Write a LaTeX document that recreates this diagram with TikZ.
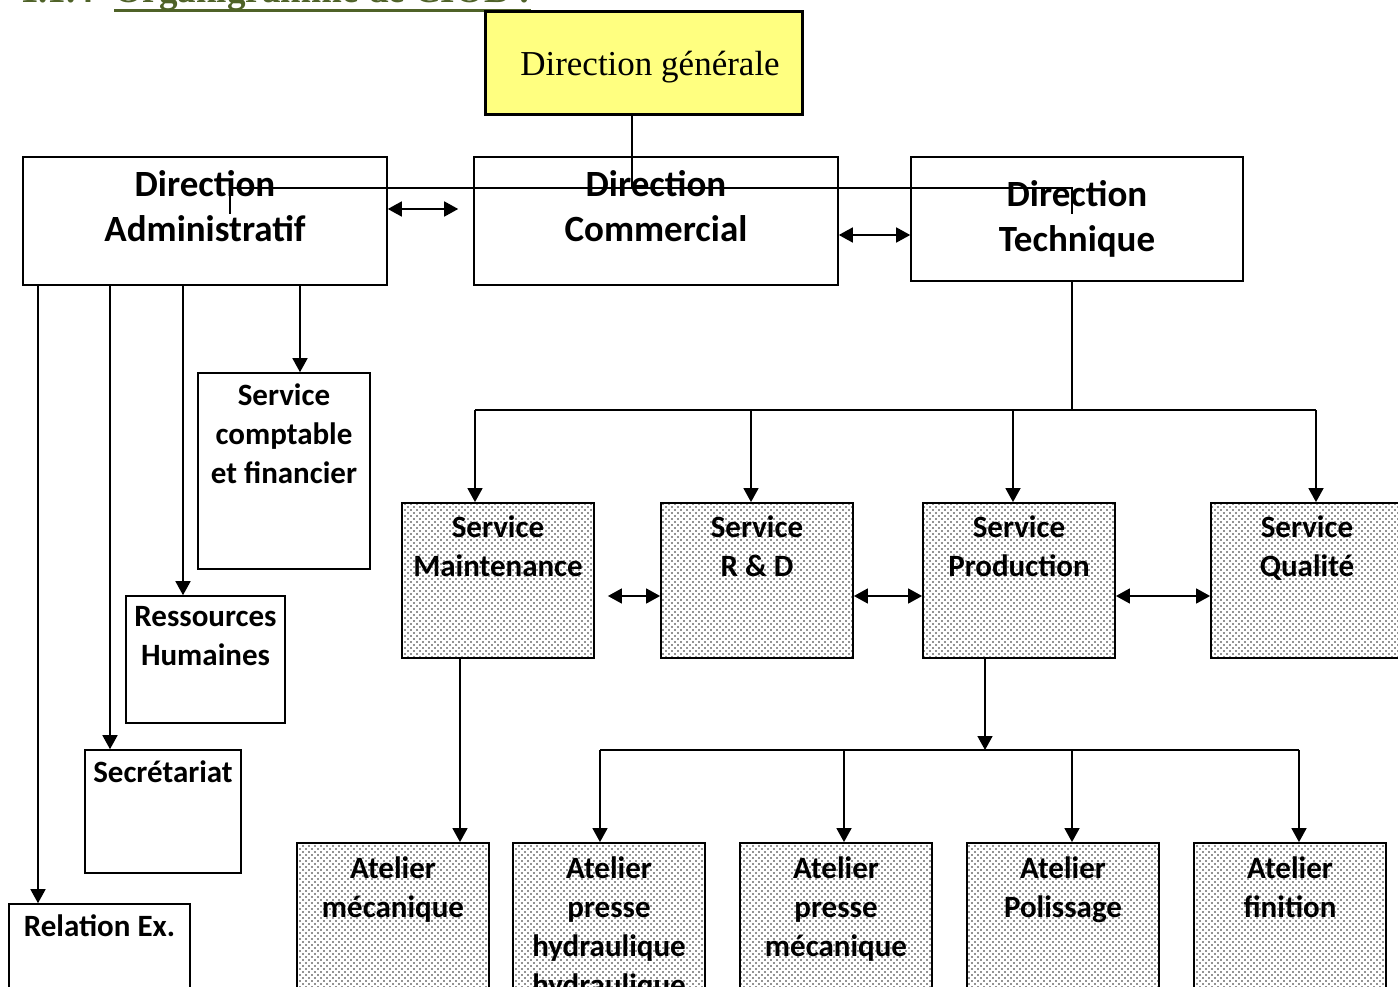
\documentclass[tikz,border=0pt]{standalone}
\usepackage{fontspec}
\usepackage{tikz}
\usetikzlibrary{arrows.meta, patterns}
\newfontfamily\calibri{Carlito}
\newfontfamily\serifface{Liberation Serif}
\newcommand{\bigfont}{\calibri\bfseries\fontsize{37}{45}\selectfont}
\newcommand{\smallfont}{\calibri\bfseries\fontsize{31}{39}\selectfont}
\definecolor{oliveTitle}{HTML}{4F6228}
\definecolor{genYellow}{HTML}{FFFF80}
\pgfdeclarepatternformonly{sparse dots}{\pgfqpoint{-1pt}{-1pt}}{\pgfqpoint{4pt}{4pt}}{\pgfqpoint{6pt}{6pt}}{%
  \pgfpathcircle{\pgfqpoint{0pt}{0pt}}{0.85pt}%
  \pgfpathcircle{\pgfqpoint{3pt}{3pt}}{0.85pt}%
  \pgfusepath{fill}}
\tikzstyle{heading} = [inner sep=0pt, text=oliveTitle, font=\serifface\bfseries\fontsize{37}{44}\selectfont]
\tikzstyle{heading_rule} = [draw=oliveTitle, line width=3pt]
\tikzstyle{general} = [rectangle, draw=black, line width=3pt, fill=genYellow, minimum width=317pt, minimum height=103pt, text depth=0pt, font=\serifface\fontsize{35}{42}\selectfont]
\tikzstyle{direction} = [rectangle, draw=black, line width=1.6pt, fill=white]
\tikzstyle{service} = [rectangle, draw=black, line width=1.8pt, pattern=sparse dots, pattern color=black!85, minimum width=192pt, minimum height=155pt]
\tikzstyle{atelier} = [service, minimum height=170pt]
\tikzstyle{big_lbl} = [anchor=north, align=center, inner sep=0pt, yshift=-14pt, font=\bigfont]
\tikzstyle{small_lbl} = [anchor=north, align=center, inner sep=0pt, yshift=-11pt, font=\smallfont]
\tikzstyle{link} = [line width=1.6pt]
\tikzstyle{arrow} = [line width=1.6pt, -{Triangle[length=14pt,width=15pt]}]
\tikzstyle{darrow} = [line width=1.6pt, {Triangle[length=14pt,width=15pt]}-{Triangle[length=14pt,width=15pt]}]

\begin{document}
\begin{tikzpicture}[x=1pt, y=-1pt]
		\useasboundingbox (0,0) rectangle (1398,987);
		
		% Title
		\node (num) [heading, anchor=base west] at (20,3) {1.1.4};
		\node (heading) [heading, anchor=base west] at (114,3) {Organigramme de CIOB :};
		\draw [heading_rule] ([yshift=-8pt]heading.base west) -- ([yshift=-8pt]heading.base east);
		
		% Nodes
		\node (dg) [general] at (643.5,63.5) {\hspace{13pt}Direction générale};
		\node (da) [direction, minimum width=364pt, minimum height=128pt, label={[big_lbl]north:{Direction\\Administratif}}] at (205,221) {};
		\node (dc) [direction, minimum width=364pt, minimum height=128pt, label={[big_lbl]north:{Direction\\Commercial}}] at (656,221) {};
		\node (dt) [direction, minimum width=332pt, minimum height=124pt, label={[big_lbl, yshift=-10pt]north:{Direction\\Technique}}] at (1077,219) {};
		
		\node (sc) [direction, minimum width=172pt, minimum height=196pt, label={[small_lbl]north:{Service\\comptable\\et financier}}] at (284,471) {};
		\node (rh) [direction, minimum width=159pt, minimum height=127pt, label={[small_lbl]north:{Ressources\\Humaines}}] at (205.5,659.5) {};
		\node (sec) [direction, minimum width=156pt, minimum height=123pt, label={[small_lbl]north:{Secrétariat}}] at (163,811.5) {};
		\node (rel) [direction, minimum width=181pt, minimum height=130pt, label={[small_lbl]north:{Relation Ex.}}] at (99.5,969) {};
		
		\node (maint) [service, label={[small_lbl, yshift=-2pt]north:{Service\\Maintenance}}] at (498,580.5) {};
		\node (rd) [service, label={[small_lbl, yshift=-2pt]north:{Service\\R \& D}}] at (757,580.5) {};
		\node (prod) [service, label={[small_lbl, yshift=-2pt]north:{Service\\Production}}] at (1019,580.5) {};
		\node (qual) [service, label={[small_lbl, yshift=-2pt]north:{Service\\Qualité}}] at (1307,580.5) {};
		
		\node (am) [atelier, label={[small_lbl, yshift=-3pt]north:{Atelier\\mécanique}}] at (393,928) {};
		\node (aph) [atelier, label={[small_lbl, yshift=-3pt]north:{Atelier\\presse\\hydraulique\\hydraulique}}] at (609,928) {};
		\node (apm) [atelier, label={[small_lbl, yshift=-3pt]north:{Atelier\\presse\\mécanique}}] at (836,928) {};
		\node (apol) [atelier, label={[small_lbl, yshift=-3pt]north:{Atelier\\Polissage}}] at (1063,928) {};
		\node (afin) [atelier, label={[small_lbl, yshift=-3pt]north:{Atelier\\finition}}] at (1290,928) {};
		
		% Junctions
		\coordinate (gen_bus) at (632,188);
		\coordinate (tick_da) at (230,214);
		\coordinate (tick_dt) at (1072,214);
		\coordinate (drop_sc) at (300,285);
		\coordinate (drop_rh) at (183,285);
		\coordinate (drop_sec) at (110,285);
		\coordinate (drop_rel) at (38,285);
		\coordinate (tech_bus) at (1072,410);
		\coordinate (drop_maint) at (475,410);
		\coordinate (drop_rd) at (751,410);
		\coordinate (drop_prod) at (1013,410);
		\coordinate (drop_qual) at (1316,410);
		\coordinate (drop_am) at (460,658);
		\coordinate (prod_bus) at (985,750);
		\coordinate (drop_aph) at (600,750);
		\coordinate (drop_apm) at (844,750);
		\coordinate (drop_apol) at (1072,750);
		\coordinate (drop_afin) at (1299,750);
		
		% Arrows
		\draw [link] (dg.south -| gen_bus) -- (gen_bus);
		\draw [link] (tick_da) |- (gen_bus) -| (tick_dt);
		\draw [darrow] ([yshift=12pt]da.east) -- ([xshift=-15pt, yshift=12pt]dc.west);
		\draw [darrow] ([yshift=-14pt]dc.east) -- ([yshift=-16pt]dt.west);
		
		\foreach \b in {sc, rh, sec, rel}
			\draw [arrow] (da.south -| drop_\b) -- (\b.north -| drop_\b);
		
		\draw [link] (dt.south -| tech_bus) -- (tech_bus);
		\draw [link] (drop_maint) -- (drop_qual);
		\foreach \b in {maint, rd, prod, qual}
			\draw [arrow] (drop_\b) -- (\b.north -| drop_\b);
		
		\draw [darrow] ([xshift=13pt, yshift=-15.5pt]maint.east) -- ([yshift=-15.5pt]rd.west);
		\draw [darrow] ([yshift=-15.5pt]rd.east) -- ([yshift=-15.5pt]prod.west);
		\draw [darrow] ([yshift=-15.5pt]prod.east) -- ([yshift=-15.5pt]qual.west);
		
		\draw [arrow] (maint.south -| drop_am) -- (am.north -| drop_am);
		\draw [arrow] (prod.south -| prod_bus) -- (prod_bus);
		\draw [link] (drop_aph) -- (drop_afin);
		\foreach \b in {aph, apm, apol, afin}
			\draw [arrow] (drop_\b) -- (\b.north -| drop_\b);
		
	\end{tikzpicture}
\end{document}
